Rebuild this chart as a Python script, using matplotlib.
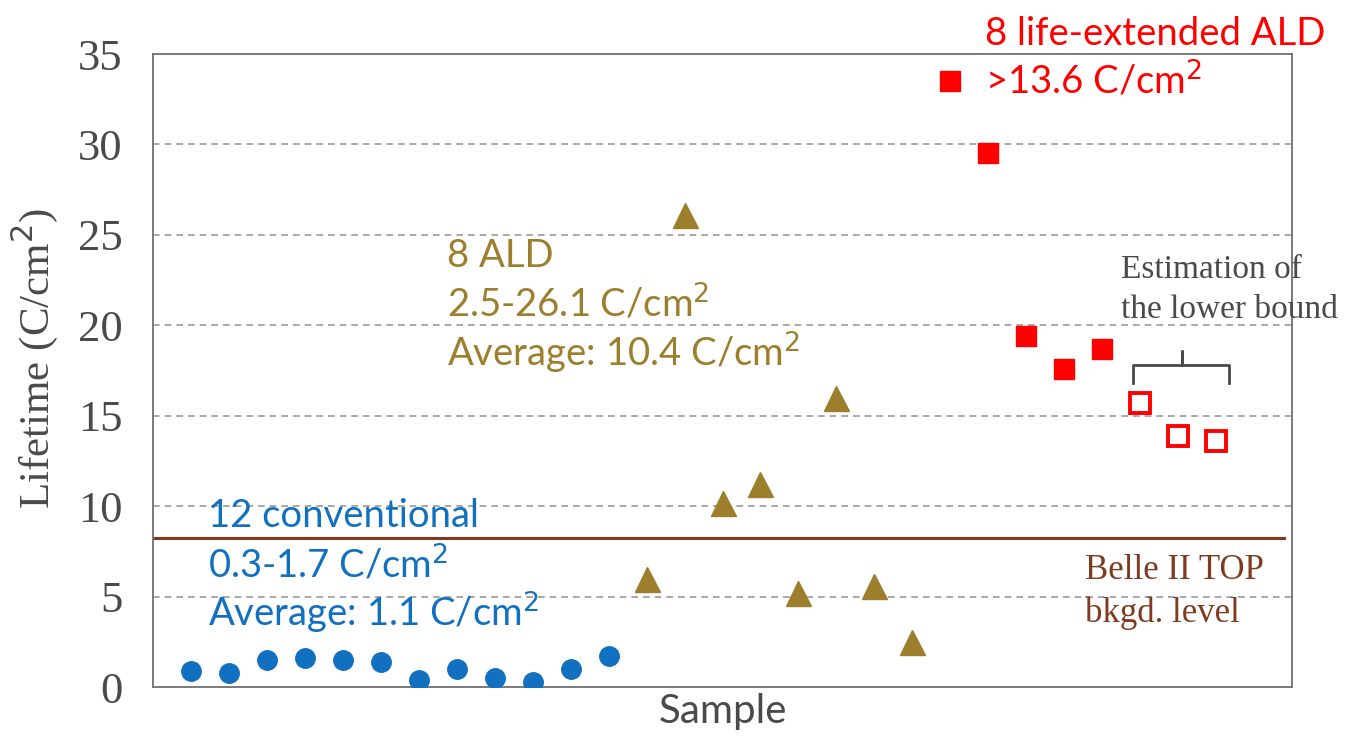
import matplotlib.pyplot as plt

# 样本寿命数据 (C/cm^2)
conv_x = [1, 2, 3, 4, 5, 6, 7, 8, 9, 10, 11, 12]
conv_y = [0.9, 0.8, 1.5, 1.6, 1.5, 1.4, 0.4, 1.0, 0.5, 0.3, 1.0, 1.7]

ald_x = [13, 14, 15, 16, 17, 18, 19, 20]
ald_y = [6.0, 26.1, 10.2, 11.2, 5.2, 16.0, 5.6, 2.5]

ext_x = [21, 22, 23, 24, 25]
ext_y = [33.5, 29.5, 19.4, 17.6, 18.7]

bound_x = [26, 27, 28]
bound_y = [15.7, 13.9, 13.6]

bkgd_level = 8.25
yticks = [0, 5, 10, 15, 20, 25, 30, 35]

blue = '#1170C0'
gold = '#9C7E2C'
red = '#FF0000'
brown = '#7F3B1F'
dark = '#4a4a4a'

serif = ['Liberation Serif', 'DejaVu Serif']
narrow = ['Lato', 'DejaVu Sans']

fig = plt.figure(figsize=(13.47, 7.40), dpi=100)
ax = fig.add_axes([0.1136, 0.0716, 0.8456, 0.8554])

for y in yticks[1:-1]:
    ax.axhline(y, color='#9a9a9a', lw=1.2, ls=(0, (4, 3)), zorder=0)

ax.plot([0, 29.8], [bkgd_level, bkgd_level], color=brown, lw=2.2, zorder=1)

ax.plot(conv_x, conv_y, 'o', color=blue, ms=14, zorder=3)
ax.plot(ald_x, ald_y, '^', color=gold, ms=18, zorder=3)
ax.plot(ext_x, ext_y, 's', color=red, ms=14, zorder=3)
ax.plot(bound_x, bound_y, 's', mfc='white', mec=red, mew=2.8, ms=14, zorder=3)

ax.set_xlim(0, 30)
ax.set_ylim(0, 35)
ax.set_yticks(yticks)
ax.set_xticks([])
ax.tick_params(axis='y', length=0, pad=22, labelsize=32, labelcolor=dark)
for lab in ax.get_yticklabels():
    lab.set_family(serif)
for s in ax.spines.values():
    s.set_color('#707070')
    s.set_linewidth(1.3)

ax.set_ylabel('Lifetime (C/cm$^2$)', family=serif, fontsize=31, color=dark)
ax.yaxis.set_label_coords(-0.082, 0.52)
ax.set_xlabel('Sample', family=narrow, fontsize=29, color=dark, labelpad=4)

fs = 27.5
ax.text(1.45, 8.85, '12 conventional', color=blue, fontsize=fs, family=narrow)
ax.text(1.45, 6.0, '0.3-1.7 C/cm$^2$', color=blue, fontsize=fs, family=narrow)
ax.text(1.45, 3.35, 'Average: 1.1 C/cm$^2$', color=blue, fontsize=fs, family=narrow)

ax.text(7.75, 23.2, '8 ALD', color=gold, fontsize=fs, family=narrow)
ax.text(7.75, 20.45, '2.5-26.1 C/cm$^2$', color=gold, fontsize=fs, family=narrow)
ax.text(7.75, 17.7, 'Average: 10.4 C/cm$^2$', color=gold, fontsize=fs, family=narrow)

ax.text(21.9, 35.5, '8 life-extended ALD', color=red, fontsize=fs, family=narrow, clip_on=False)
ax.text(21.9, 32.8, '>13.6 C/cm$^2$', color=red, fontsize=fs, family=narrow)

ax.text(25.5, 22.6, 'Estimation of', color=dark, fontsize=24, family=serif)
ax.text(25.5, 20.4, 'the lower bound', color=dark, fontsize=24, family=serif, clip_on=False)

# 下界估计的括号
ax.plot([25.8, 25.8, 27.1, 27.1, 27.1, 28.35, 28.35],
        [16.8, 17.8, 17.8, 18.6, 17.8, 17.8, 16.8],
        color=dark, lw=2, solid_joinstyle='round', zorder=2)

ax.text(24.55, 6.0, 'Belle II TOP', color=brown, fontsize=25, family=serif)
ax.text(24.55, 3.6, 'bkgd. level', color=brown, fontsize=25, family=serif)

fig.savefig('out.png', dpi=100, facecolor='white')
